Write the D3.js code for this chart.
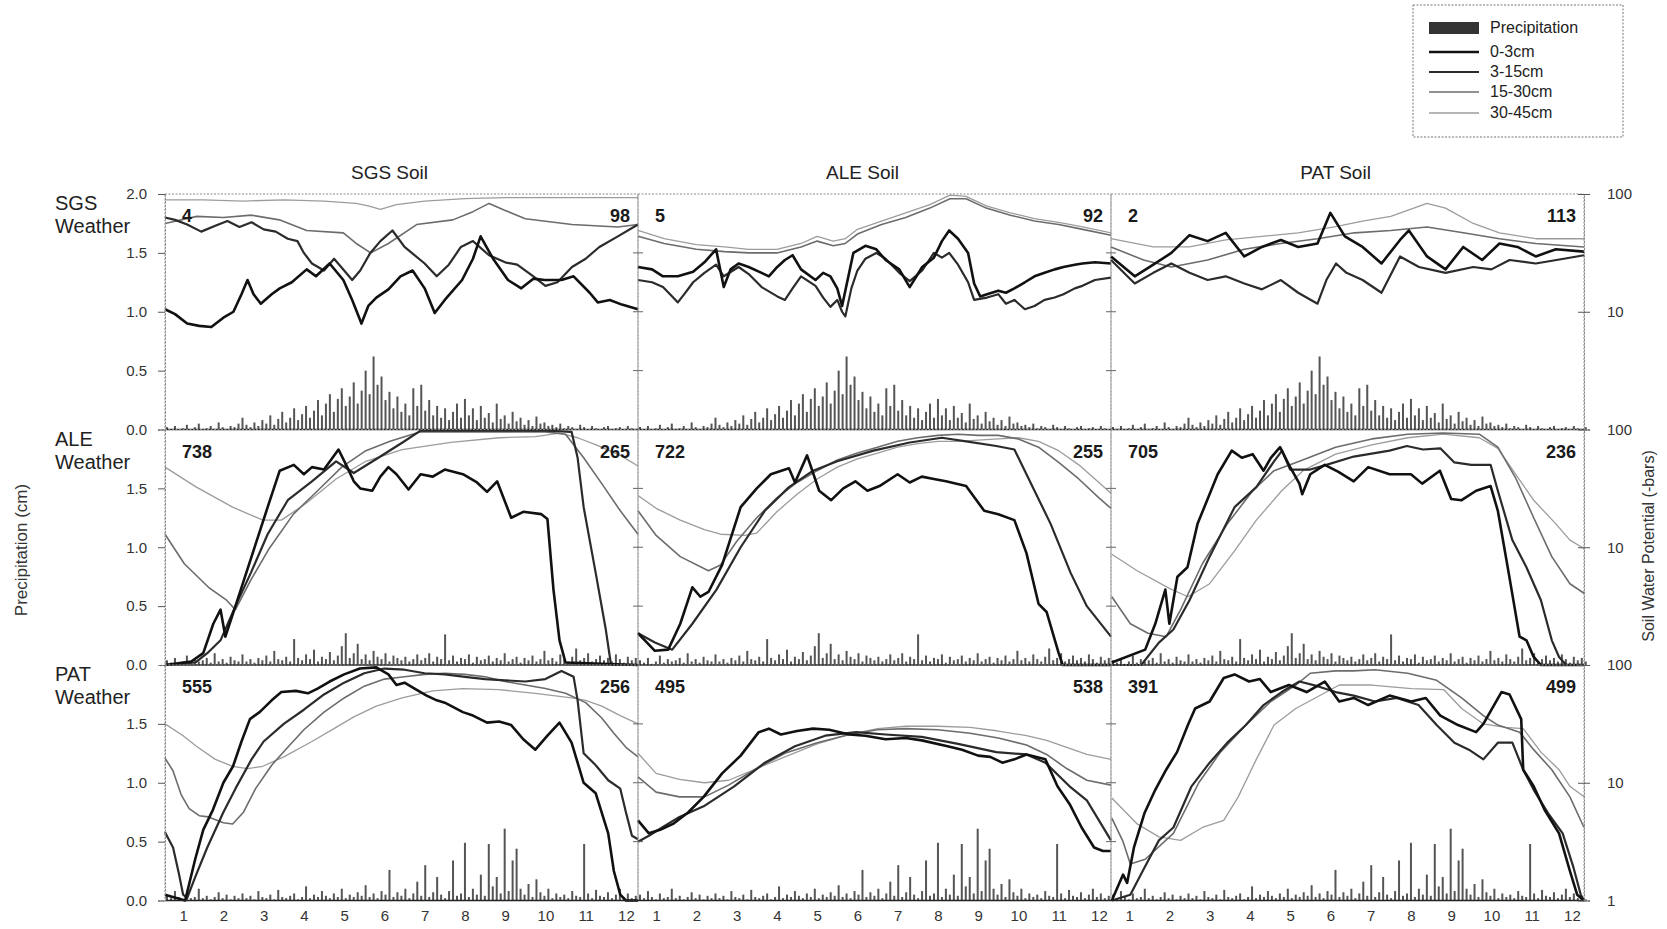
<!DOCTYPE html>
<html>
<head>
<meta charset="utf-8">
<script src="https://cdn.jsdelivr.net/npm/d3@7"></script>
<style>
  body { margin: 0; background: #fff; }
  svg { display: block; font-family: "Liberation Sans", Arial, sans-serif; }
</style>
</head>
<body>
<svg id="chart" width="1667" height="929"></svg>
<script>
// ---- categories and ticks ----
const weatherSites = ["SGS", "ALE", "PAT"];
const soilSites = ["SGS Soil", "ALE Soil", "PAT Soil"];
const layers = ["0-3cm", "3-15cm", "15-30cm", "30-45cm"];
const monthTicks = [1, 2, 3, 4, 5, 6, 7, 8, 9, 10, 11, 12];
const precipTicks = [0, 0.5, 1.0, 1.5, 2.0];
const potentialTicks = [1, 10, 100];
// counts printed in the upper corners of each panel (row = weather, col = soil)
const startCounts = [[4, 5, 2], [738, 722, 705], [555, 495, 391]];
const endCounts = [[98, 92, 113], [265, 255, 236], [256, 538, 499]];

// ---- precipitation, cm per 3-day period, starting early January ----
const precipSGS = [0.02,0,0.03,0,0.01, 0.04,0,0.02,0.05,0,0.01,0.03,0,0.06,0.02,
  0,0.03,0.02,0.05,0.1,0.04,0.02,0.06,0.03,0.08, 0.05,0.12,0.04,0.09,0.15,0.06,0.1,0.18,0.08,0.13,
  0.2,0.1,0.16,0.25,0.12,0.22,0.3,0.15,0.26,0.35, 0.2,0.28,0.4,0.22,0.33,0.5,0.3,0.62,0.38,0.45,
  0.25,0.32,0.18,0.28,0.15,0.22,0.12,0.35,0.2,0.38, 0.16,0.25,0.12,0.2,0.1,0.18,0.08,0.15,0.22,0.1,
  0.26,0.12,0.18,0.08,0.2,0.1,0.14,0.06,0.22,0.09, 0.12,0.05,0.15,0.07,0.1,0.04,0.08,0.03,0.11,0.05,
  0.06,0.03,0.04,0.02,0.05,0.01,0.03,0.02,0,0.04, 0.02,0,0.03,0.01,0,0.02,0.03,0,0.01,0.02,0,0.03,0.01,0,0.02];
const precipALE = [0.04,0.02,0.06,0.01,0.03,0.08,0.02,0.05,0.03,0.04, 0.06,0.02,0.1,0.03,0.05,0.02,0.07,0.04,0.03,0.09,
  0.03,0.05,0.02,0.06,0.04,0.08,0.03,0.12,0.05,0.04, 0.07,0.03,0.22,0.06,0.04,0.09,0.05,0.13,0.03,0.07,
  0.05,0.11,0.04,0.08,0.16,0.27,0.06,0.1,0.18,0.05, 0.09,0.04,0.12,0.07,0.05,0.1,0.03,0.08,0.06,0.04,
  0.07,0.03,0.05,0.09,0.04,0.06,0.1,0.03,0.07,0.05, 0.26,0.04,0.08,0.03,0.06,0.05,0.09,0.02,0.07,0.04,
  0.05,0.08,0.03,0.06,0.04,0.1,0.03,0.05,0.07,0.02, 0.06,0.04,0.08,0.03,0.05,0.12,0.04,0.06,0.03,0.09,
  0.05,0.03,0.07,0.14,0.04,0.06,0.1,0.03,0.05,0.08, 0.04,0.06,0.03,0.09,0.05,0.02,0.07,0.04,0.06,0.03];
const precipPAT = [0.05,0.02,0.08,0.03,0.01,0.06,0.02,0.03,0.1,0.02, 0.04,0.01,0.03,0.07,0.02,0.05,0.01,0.04,0.02,0.06,
  0.02,0.04,0.01,0.08,0.03,0.02,0.05,0.01,0.09,0.03, 0.02,0.04,0.06,0.01,0.03,0.12,0.02,0.05,0.03,0.08,
  0.04,0.02,0.06,0.03,0.1,0.02,0.05,0.03,0.07,0.04, 0.13,0.03,0.06,0.02,0.08,0.05,0.26,0.03,0.07,0.04,
  0.1,0.02,0.06,0.16,0.04,0.3,0.03,0.07,0.2,0.05, 0.02,0.08,0.34,0.04,0.06,0.49,0.03,0.1,0.05,0.22,
  0.04,0.48,0.12,0.2,0.06,0.61,0.08,0.34,0.44,0.1, 0.05,0.14,0.03,0.18,0.07,0.04,0.1,0.02,0.06,0.03,
  0.05,0.02,0.08,0.04,0.03,0.48,0.06,0.02,0.09,0.04, 0.03,0.07,0.02,0.05,0.1,0.03,0.06,0.02,0.04,0.01];
const precipByWeather = [precipSGS, precipALE, precipPAT];

// ---- soil water potential, [month, -bars] ----
// SGS weather / SGS soil
const sgsWx_sgsSoil_0to3 = [[0.55,10.5],[0.8,9.55],[1.1,7.94],[1.4,7.59],[1.7,7.41],[2.0,8.91],[2.25,10],[2.45,14.1],[2.6,18.6],[2.75,14.1],[2.93,11.7],[3.2,14.1],[3.4,15.8],[3.7,17.8],[4.07,22.9],[4.3,20],[4.64,25.7],[4.98,18.6],[5.2,12.6],[5.43,7.94],[5.6,11.2],[5.8,13.2],[6.1,15.5],[6.4,20],[6.7,22.4],[7.0,15.8],[7.25,9.77],[7.5,12.6],[7.93,18.6],[8.2,28.2],[8.39,43.7],[8.7,28.2],[9.07,18.6],[9.4,15.8],[9.7,19.1],[9.98,18.6],[10.4,18.6],[10.7,20],[11.1,14.5],[11.3,12],[11.6,12.6],[11.9,11.5],[12.3,10.5]];
const sgsWx_sgsSoil_3to15 = [[0.55,63.1],[0.8,60.3],[1.1,55],[1.45,47.9],[1.8,53.7],[2.1,58.9],[2.4,52.5],[2.7,57.5],[3.0,50.1],[3.3,47.9],[3.6,41.7],[3.84,39.8],[4.0,31.6],[4.2,25.7],[4.5,22.4],[4.75,28.2],[5.0,22.4],[5.2,18.6],[5.4,22.4],[5.65,31.6],[5.9,39.8],[6.2,49],[6.5,35.5],[7.0,25.7],[7.3,20],[7.6,25.1],[7.9,35.5],[8.2,39.8],[8.6,30.2],[9.0,26.3],[9.3,25.1],[9.7,20],[10.0,16.6],[10.3,17.8],[10.66,24],[11.0,28.2],[11.34,35.5],[11.8,43.7],[12.3,55]];
const sgsWx_sgsSoil_15to30 = [[0.55,56.2],[1.34,64.6],[2.0,63.1],[2.7,66.1],[3.39,60.3],[4.07,49],[4.98,46.8],[5.3,38],[5.66,31.6],[6.1,38],[6.8,55],[7.7,60.3],[8.2,70.8],[8.6,83.2],[9.0,72.4],[9.5,61.7],[10.66,55],[11.8,52.5],[12.3,55]];
const sgsWx_sgsSoil_30to45 = [[0.55,89.1],[1.5,89.1],[2.5,87.1],[3.5,89.1],[4.5,87.1],[5.3,83.2],[5.6,79.4],[5.9,74.1],[6.3,81.3],[7.0,87.1],[8.0,91.2],[9.0,93.3],[10.0,93.3],[11.0,93.3],[12.3,93.3]];
// SGS weather / ALE soil
const sgsWx_aleSoil_0to3 = [[0.55,24],[0.9,22.9],[1.17,20],[1.54,20],[1.92,21.9],[2.2,26.3],[2.49,33.9],[2.68,16.2],[2.85,22.9],[3.05,25.7],[3.3,24],[3.62,21.4],[3.8,20],[4.01,24],[4.2,27.5],[4.39,30.2],[4.6,22.9],[4.96,18.6],[5.15,21.4],[5.33,20],[5.5,15.8],[5.62,11.2],[5.7,15.1],[5.9,31.6],[6.2,36.3],[6.47,33.9],[6.7,27.5],[7.04,22.9],[7.3,16.2],[7.61,24],[7.9,28.8],[8.1,39.8],[8.28,49],[8.5,41.7],[8.75,31.6],[8.9,17.4],[9.05,13.5],[9.22,14.1],[9.5,15.1],[9.69,14.5],[9.9,15.8],[10.16,17.8],[10.4,20],[10.65,21.4],[10.9,22.9],[11.12,24],[11.4,25.1],[11.59,25.7],[11.9,26.3],[12.3,25.7]];
const sgsWx_aleSoil_3to15 = [[0.55,18.6],[0.9,17.8],[1.17,16.2],[1.4,13.5],[1.54,12],[1.7,14.1],[1.92,17.8],[2.2,21.4],[2.49,25.1],[2.68,20],[3.05,24],[3.3,20.9],[3.62,16.2],[4.01,13.5],[4.2,12.6],[4.39,15.8],[4.6,20],[4.96,16.6],[5.15,13.2],[5.33,11],[5.5,12.6],[5.62,10],[5.7,9.12],[5.85,15.8],[6.0,22.4],[6.2,28.2],[6.47,31.6],[6.7,28.2],[7.04,21.4],[7.3,18.2],[7.61,22.4],[7.9,31.6],[8.1,28.8],[8.28,31.6],[8.5,25.1],[8.75,17.8],[8.9,12.6],[9.22,13.2],[9.5,14.1],[9.69,11.7],[9.9,12.6],[10.16,10.5],[10.4,11.2],[10.65,12.6],[10.9,13.2],[11.12,14.1],[11.4,15.8],[11.59,16.6],[11.9,18.6],[12.3,19.5]];
const sgsWx_aleSoil_15to30 = [[0.55,43.7],[1.2,38],[2.0,33.9],[2.7,32.4],[3.3,31.6],[4.0,31.6],[4.6,35.5],[5.0,39.8],[5.4,36.3],[5.7,38],[6.0,45.7],[6.6,55],[7.2,63.1],[7.8,75.9],[8.3,91.2],[8.7,91.2],[9.2,75.9],[9.8,66.1],[10.4,58.9],[11.0,55],[11.6,50.1],[12.3,44.7]];
const sgsWx_aleSoil_30to45 = [[0.55,49],[1.2,41.7],[2.0,37.2],[2.7,35.5],[3.3,33.9],[4.0,33.9],[4.6,38],[5.0,43.7],[5.4,39.8],[5.7,41.7],[6.0,50.1],[6.6,58.9],[7.2,69.2],[7.8,81.3],[8.3,97.7],[8.7,95.5],[9.2,79.4],[9.8,69.2],[10.4,61.7],[11.0,57.5],[11.6,52.5],[12.3,46.8]];
// SGS weather / PAT soil
const sgsWx_patSoil_0to3 = [[0.55,29.5],[1.14,20],[1.6,25.1],[2.05,31.6],[2.5,44.7],[2.95,39.8],[3.4,46.8],[3.86,29.5],[4.3,35.5],[4.77,40.7],[5.2,35.5],[5.68,38],[6.0,69.2],[6.36,43.7],[6.8,35.5],[7.27,25.7],[7.73,40.7],[7.95,49],[8.4,29.5],[8.86,22.9],[9.3,35.5],[9.77,27.5],[10.2,38],[10.65,35.5],[11.1,29.5],[11.6,33.9],[12.3,32.4]];
const sgsWx_patSoil_3to15 = [[0.55,27.5],[1.14,17.4],[1.6,21.4],[2.05,25.7],[2.5,21.4],[2.95,18.6],[3.4,20],[3.86,17.4],[4.3,15.5],[4.77,18.6],[5.2,14.5],[5.68,11.7],[5.9,18.6],[6.14,25.7],[6.4,21.4],[6.8,18.6],[7.27,14.5],[7.73,29.5],[8.2,24],[8.86,21.4],[9.55,24],[10.0,22.9],[10.45,27.5],[11.1,25.7],[11.8,28.2],[12.3,30.2]];
const sgsWx_patSoil_15to30 = [[0.55,35.5],[1.36,27.5],[2.05,24],[2.95,27.5],[3.86,33.9],[4.77,38],[5.68,41.7],[6.6,46.8],[7.5,49],[8.4,52.5],[9.3,46.8],[10.2,41.7],[11.1,38],[12.3,35.5]];
const sgsWx_patSoil_30to45 = [[0.55,41.7],[1.6,35.5],[2.5,35.5],[3.4,40.7],[4.3,43.7],[5.2,46.8],[6.1,52.5],[6.8,58.9],[7.5,64.6],[8.4,83.2],[8.86,75.9],[9.55,56.2],[10.2,46.8],[11.1,41.7],[12.3,41.7]];
// ALE weather / SGS soil
const aleWx_sgsSoil_0to3 = [[0.55,1],[1.2,1.07],[1.5,1.26],[1.75,2.24],[1.93,2.95],[2.05,1.74],[2.3,3.16],[2.7,8.32],[3.1,21.9],[3.4,44.7],[3.75,50.1],[4.0,41.7],[4.2,47.9],[4.5,45.7],[4.86,67.6],[5.05,50.1],[5.24,36.3],[5.4,31.6],[5.7,30.2],[5.9,39.8],[6.1,47.9],[6.3,41.7],[6.6,30.9],[6.9,41.7],[7.2,39.8],[7.5,45.7],[7.95,41.7],[8.3,35.5],[8.55,29.5],[8.8,36.3],[9.15,17.8],[9.45,20],[9.9,19.1],[10.05,17.4],[10.2,4.37],[10.35,1.62],[10.5,1.05],[12.3,1]];
const aleWx_sgsSoil_3to15 = [[0.55,1],[1.3,1.05],[1.6,1.26],[1.93,1.62],[2.3,3.16],[2.68,6.03],[3.1,12.9],[3.6,25.1],[4.2,36.3],[4.8,53.7],[5.24,42.7],[5.85,57.5],[6.45,77.6],[6.9,97.7],[8.0,97.7],[9.0,97.7],[10.0,97.7],[10.65,95.5],[10.8,57.5],[10.95,21.9],[11.25,6.03],[11.5,2.0],[11.63,1],[12.3,1]];
const aleWx_sgsSoil_15to30 = [[0.55,12.9],[1.03,7.24],[1.63,4.57],[2.08,3.55],[2.3,2.95],[2.68,5.25],[3.14,9.77],[3.74,19.1],[4.34,30.2],[4.94,47.9],[5.54,66.1],[6.14,79.4],[6.9,95.5],[8.0,95.5],[9.0,95.5],[10.0,95.5],[10.5,91.2],[10.95,57.5],[11.4,34.7],[11.86,20.4],[12.3,12.9]];
const aleWx_sgsSoil_30to45 = [[0.55,47.9],[1.33,32.4],[2.23,21.9],[2.98,17],[3.44,17],[4.04,23.4],[4.8,38],[5.54,53.7],[6.44,67.6],[7.65,77.6],[8.85,85.1],[9.75,87.1],[10.35,93.3],[10.8,85.1],[11.26,74.1],[11.86,60.3],[12.3,49]];
// ALE weather / ALE soil
const aleWx_aleSoil_0to3 = [[0.55,1.86],[0.75,1.58],[0.97,1.32],[1.3,1.35],[1.6,2.24],[1.9,4.57],[2.1,3.8],[2.3,4.17],[2.64,7.08],[3.1,21.9],[3.5,31.6],[3.85,41.7],[4.3,46.8],[4.45,35.5],[4.75,60.3],[5.05,30.2],[5.35,25.1],[5.65,31.6],[5.95,36.3],[6.25,30.2],[6.55,33.1],[7.0,41.7],[7.3,35.5],[7.6,39.8],[7.9,38],[8.2,36.3],[8.7,33.1],[9.15,20.4],[9.5,19.1],[9.9,17],[10.2,8.91],[10.5,3.31],[10.7,2.82],[11.0,1.26],[11.1,1],[12.3,1]];
const aleWx_aleSoil_3to15 = [[0.55,1.86],[0.97,1.55],[1.4,1.35],[1.9,2.24],[2.5,4.37],[3.1,10],[3.7,20.4],[4.3,32.4],[4.9,44.7],[5.5,53.7],[6.4,66.1],[7.3,77.6],[8.1,85.1],[8.7,79.4],[9.45,72.4],[9.9,67.6],[10.2,41.7],[10.8,15.8],[11.3,6.03],[11.7,3.16],[12.3,1.74]];
const aleWx_aleSoil_15to30 = [[0.55,20.4],[1.0,12.6],[1.6,8.32],[2.3,6.31],[2.6,7.08],[3.0,11.2],[3.5,17.8],[4.0,26.3],[4.5,35.5],[5.0,44.7],[5.5,55],[6.0,63.1],[6.5,70.8],[7.0,79.4],[7.5,85.1],[8.0,89.1],[8.5,91.2],[9.0,89.1],[9.5,89.1],[10.0,83.2],[10.5,70.8],[11.0,52.5],[11.5,38],[12.0,26.3],[12.3,21.4]];
const aleWx_aleSoil_30to45 = [[0.55,27.5],[1.0,21.4],[1.6,17],[2.2,14.1],[2.6,12.9],[3.2,12.6],[3.5,13.2],[4.0,20],[4.5,28.2],[5.0,38],[5.5,47.9],[6.0,56.2],[6.5,63.1],[7.0,70.8],[7.5,75.9],[8.0,79.4],[8.5,79.4],[9.0,81.3],[9.5,83.2],[10.0,85.1],[10.5,79.4],[11.0,66.1],[11.5,50.1],[12.0,35.5],[12.3,28.8]];
// ALE weather / PAT soil
const aleWx_patSoil_0to3 = [[0.57,1.05],[1.4,1.35],[1.65,2.24],[1.9,4.37],[2.0,2.24],[2.2,5.62],[2.45,6.76],[2.7,15.8],[3.2,41.7],[3.55,66.1],[3.8,57.5],[4.07,61.7],[4.34,44.7],[4.52,57.5],[4.75,70.8],[4.97,50.1],[5.23,34.7],[5.3,28.2],[5.5,41.7],[5.86,50.1],[6.2,43.7],[6.58,36.3],[6.94,47.9],[7.47,41.7],[8.0,41.7],[8.28,34.7],[8.72,44.7],[9.0,25.7],[9.26,25.1],[9.62,30.2],[9.98,33.1],[10.16,20.4],[10.43,6.03],[10.7,1.74],[10.87,1.62],[11.05,1.17],[11.23,1],[12.3,1]];
const aleWx_patSoil_3to15 = [[0.57,1],[1.3,1],[1.74,1.55],[2.1,2.0],[2.5,3.55],[3.0,8.32],[3.62,21.9],[4.16,32.4],[4.6,53.7],[4.8,66.1],[5.0,45.7],[5.5,45.7],[5.9,50.1],[6.58,58.9],[7.47,66.1],[7.9,72.4],[8.3,67.6],[8.73,69.2],[9.08,52.5],[9.5,50.1],[9.98,50.1],[10.16,30.2],[10.52,11.5],[10.87,6.76],[11.23,3.55],[11.5,1.62],[11.68,1.17],[11.86,1],[12.3,1]];
const aleWx_patSoil_15to30 = [[0.57,3.8],[1.03,2.24],[1.47,1.86],[1.92,1.74],[2.28,2.95],[2.82,7.24],[3.44,15.8],[4.07,30.2],[4.6,44.7],[5.23,53.7],[6.13,70.8],[7.03,83.2],[7.92,91.2],[8.8,93.3],[9.7,91.2],[10.16,70.8],[10.6,38.9],[11.05,17.8],[11.5,8.32],[11.95,4.9],[12.3,4.07]];
const aleWx_patSoil_30to45 = [[0.57,8.71],[1.2,6.31],[2.0,4.47],[2.46,3.8],[3.0,4.9],[3.62,9.33],[4.16,17],[4.79,30.2],[5.32,44.7],[6.13,61.7],[7.03,74.1],[7.92,85.1],[8.8,91.2],[9.7,85.1],[10.16,69.2],[10.6,41.7],[11.05,25.1],[11.6,15.8],[11.95,11.5],[12.3,9.77]];
// PAT weather / SGS soil
const patWx_sgsSoil_0to3 = [[0.55,1.12],[1.05,1],[1.3,2.24],[1.5,3.98],[1.74,5.89],[2.0,10],[2.24,13.8],[2.45,22.4],[2.66,34.7],[2.9,39.8],[3.2,50.1],[3.44,58.9],[3.8,60.3],[4.1,57.5],[4.34,63.1],[4.64,72.4],[5.0,83.2],[5.39,93.3],[5.8,95.5],[6.1,83.2],[6.3,67.6],[6.5,70.8],[6.75,63.1],[7.05,55],[7.3,50.1],[7.5,47.9],[7.95,39.8],[8.2,37.2],[8.55,32.4],[8.85,33.1],[9.15,30.9],[9.45,23.4],[9.75,19.1],[10.05,25.1],[10.35,32.4],[10.65,21.9],[10.95,10],[11.25,8.13],[11.56,3.72],[11.7,1.78],[11.86,1.12],[12.0,1],[12.3,1]];
const patWx_sgsSoil_3to15 = [[0.55,3.8],[0.75,2.82],[0.9,1.66],[1.0,1.12],[1.1,1.05],[1.3,1.58],[1.6,2.82],[2.0,5.62],[2.3,8.91],[2.7,15.8],[3.0,22.4],[3.5,31.6],[4.0,41.7],[4.5,56.2],[5.0,70.8],[5.5,85.1],[6.0,93.3],[6.5,91.2],[7.0,85.1],[7.5,83.2],[8.0,79.4],[8.5,75.9],[9.0,74.1],[9.5,72.4],[10.0,75.9],[10.4,89.1],[10.7,79.4],[10.8,50.1],[10.95,17.8],[11.25,14.1],[11.56,10.5],[11.86,8.91],[12.0,5.62],[12.15,3.55],[12.3,3.31]];
const patWx_sgsSoil_15to30 = [[0.55,16.2],[0.75,12.6],[0.95,7.94],[1.15,6.03],[1.4,5.25],[1.63,5.13],[2.0,4.57],[2.23,4.47],[2.5,5.62],[2.8,8.91],[3.2,14.1],[3.6,20],[4.0,28.2],[4.5,39.8],[5.0,52.5],[5.5,66.1],[6.0,75.9],[6.5,79.4],[7.0,83.2],[7.5,85.1],[8.0,83.2],[8.5,79.4],[9.0,72.4],[9.5,67.6],[10.0,63.1],[10.5,57.5],[11.0,47.9],[11.4,35.5],[11.7,26.3],[12.0,20],[12.3,16.6]];
const patWx_sgsSoil_30to45 = [[0.55,31.6],[1.0,25.1],[1.33,20.4],[1.8,15.8],[2.23,13.8],[2.6,13.2],[2.98,13.8],[3.5,16.6],[4.2,22.4],[4.8,29.5],[5.24,36.3],[5.8,44.7],[6.44,52.5],[7.2,60.3],[7.95,63.1],[8.85,61.7],[9.75,57.5],[10.65,52.5],[11.0,50.1],[11.4,44.7],[11.86,37.2],[12.3,31.6]];
// PAT weather / ALE soil
const patWx_aleSoil_0to3 = [[0.55,4.79],[0.82,3.72],[1.1,3.98],[1.42,4.47],[1.8,5.62],[2.18,7.59],[2.64,12],[3.1,17],[3.55,26.9],[3.8,28.8],[4.1,25.7],[4.5,27.5],[4.9,28.8],[5.3,28.2],[5.8,25.7],[6.2,25.1],[6.7,23.4],[7.2,24],[7.6,22.9],[8.24,20.4],[8.6,19.1],[9.0,17],[9.3,16.6],[9.6,14.8],[9.9,15.8],[10.2,17.4],[10.67,15.8],[10.97,9.33],[11.27,6.61],[11.57,4.17],[11.88,2.82],[12.1,2.63],[12.3,2.63]];
const patWx_aleSoil_3to15 = [[0.55,3.16],[0.82,3.55],[1.2,4.27],[1.58,5.13],[2.18,6.31],[2.94,9.33],[3.7,14.8],[4.45,20.4],[5.2,25.1],[5.97,26.9],[6.7,25.7],[7.6,24.5],[8.5,21.4],[9.45,18.2],[10.2,17.4],[10.67,14.8],[11.27,9.33],[11.7,7.08],[12.0,4.79],[12.3,3.24]];
const patWx_aleSoil_15to30 = [[0.55,11.2],[1.0,8.32],[1.58,7.59],[2.2,7.59],[2.8,9.55],[3.5,13.2],[4.2,17.8],[5.0,21.9],[5.8,25.7],[6.5,28.2],[7.2,28.8],[8.0,28.2],[8.8,26.3],[9.5,24],[10.2,20.9],[10.7,17.4],[11.2,13.2],[11.7,10.5],[12.3,9.55]];
const patWx_aleSoil_30to45 = [[0.55,17.8],[1.0,12],[1.58,10.7],[2.2,10],[2.8,10.5],[3.5,13.2],[4.2,16.6],[5.0,21.4],[5.8,25.7],[6.5,28.8],[7.2,30.2],[8.0,30.2],[8.8,29.5],[9.5,27.5],[10.2,25.1],[10.7,22.9],[11.2,20],[11.7,17.4],[12.3,15.8]];
// PAT weather / PAT soil
const patWx_patSoil_0to3 = [[0.57,1],[0.85,1.66],[0.95,1.41],[1.12,2.82],[1.38,5.5],[1.65,8.71],[1.92,12.9],[2.19,18.2],[2.46,30.9],[2.64,42.7],[3.0,49],[3.35,77.6],[3.62,83.2],[3.98,72.4],[4.25,75.9],[4.52,58.9],[4.97,67.6],[5.41,58.9],[5.86,72.4],[6.22,49],[6.58,52.5],[6.94,45.7],[7.47,55],[8.01,49],[8.37,52.5],[8.73,37.2],[9.17,30.9],[9.62,26.9],[9.8,31.6],[10.25,58.9],[10.45,56.2],[10.74,34.7],[10.79,12.9],[11.05,9.33],[11.32,5.89],[11.68,3.72],[11.95,1.78],[12.13,1.12],[12.3,1]];
const patWx_patSoil_3to15 = [[0.57,1],[1.03,1.12],[1.38,1.9],[1.74,3.24],[2.1,4.17],[2.55,9.33],[3.0,14.8],[3.44,21.9],[3.9,30.9],[4.34,45.7],[4.79,58.9],[5.23,72.4],[5.68,66.1],[6.13,58.9],[6.58,55],[7.11,49],[7.65,52.5],[8.19,45.7],[8.64,30.9],[9.08,21.9],[9.44,19.1],[9.8,15.8],[10.16,21.9],[10.52,21.9],[10.79,12.9],[11.05,8.71],[11.41,5.5],[11.77,3.72],[12.04,1.9],[12.22,1.12],[12.3,1]];
const patWx_patSoil_15to30 = [[0.57,5.01],[0.85,3.16],[1.03,2.04],[1.4,2.24],[2.1,3.72],[2.73,10],[3.27,18.2],[3.9,30.9],[4.52,49],[5.14,67.6],[5.5,85.1],[6.13,89.1],[6.58,89.1],[7.11,91.2],[7.92,85.1],[8.64,74.1],[9.26,52.5],[9.8,37.2],[10.16,30.9],[10.7,26.9],[11.05,19.1],[11.5,12.9],[11.95,7.59],[12.3,4.17]];
const patWx_patSoil_30to45 = [[0.57,7.41],[1.2,4.47],[1.74,3.47],[2.28,3.24],[2.82,4.17],[3.35,4.79],[3.71,7.59],[4.16,15.8],[4.6,30.9],[5.14,42.7],[5.68,53.7],[6.22,67.6],[7.03,67.6],[8.01,63.1],[8.82,61.7],[9.26,42.7],[9.8,31.6],[10.34,29.5],[10.79,28.8],[11.23,18.2],[11.68,12.9],[11.95,9.33],[12.3,7.59]];

// panel table: rows follow weather site, columns follow soil site
const panelSeries = [
  [[sgsWx_sgsSoil_0to3, sgsWx_sgsSoil_3to15, sgsWx_sgsSoil_15to30, sgsWx_sgsSoil_30to45],
   [sgsWx_aleSoil_0to3, sgsWx_aleSoil_3to15, sgsWx_aleSoil_15to30, sgsWx_aleSoil_30to45],
   [sgsWx_patSoil_0to3, sgsWx_patSoil_3to15, sgsWx_patSoil_15to30, sgsWx_patSoil_30to45]],
  [[aleWx_sgsSoil_0to3, aleWx_sgsSoil_3to15, aleWx_sgsSoil_15to30, aleWx_sgsSoil_30to45],
   [aleWx_aleSoil_0to3, aleWx_aleSoil_3to15, aleWx_aleSoil_15to30, aleWx_aleSoil_30to45],
   [aleWx_patSoil_0to3, aleWx_patSoil_3to15, aleWx_patSoil_15to30, aleWx_patSoil_30to45]],
  [[patWx_sgsSoil_0to3, patWx_sgsSoil_3to15, patWx_sgsSoil_15to30, patWx_sgsSoil_30to45],
   [patWx_aleSoil_0to3, patWx_aleSoil_3to15, patWx_aleSoil_15to30, patWx_aleSoil_30to45],
   [patWx_patSoil_0to3, patWx_patSoil_3to15, patWx_patSoil_15to30, patWx_patSoil_30to45]]
];

// ---- layout ----
const plotL = 165, plotR = 1584, plotT = 194, rowH = 235.5;
const colW = (plotR - plotL) / 3;
const monthDomain = [0.55, 12.3];
const precipStartMonth = 0.6, precipStepDays = 3, daysPerMonth = 30.4;

const layerStroke = ["#111", "#2b2b2b", "#6c6c6c", "#9c9c9c"];
const layerWidth = [2.6, 2.2, 1.6, 1.3];

const svg = d3.select("#chart");

const xScale = c => d3.scaleLinear().domain(monthDomain).range([plotL + c * colW, plotL + (c + 1) * colW]);
const yPrecip = r => d3.scaleLinear().domain([0, 2]).range([plotT + (r + 1) * rowH, plotT + r * rowH]);
const yPot = r => d3.scaleLog().domain([1, 100]).range([plotT + (r + 1) * rowH, plotT + r * rowH]).clamp(true);

const plot = svg.append("g");

for (let r = 0; r < 3; r++) {
  const yp = yPrecip(r), ys = yPot(r);
  for (let c = 0; c < 3; c++) {
    const x = xScale(c);
    const g = plot.append("g");

    // precipitation bars
    const bars = precipByWeather[r];
    g.append("g").selectAll("line").data(bars).join("line")
      .attr("x1", (d, i) => x(precipStartMonth + i * precipStepDays / daysPerMonth))
      .attr("x2", (d, i) => x(precipStartMonth + i * precipStepDays / daysPerMonth))
      .attr("y1", yp(0))
      .attr("y2", d => yp(d))
      .attr("stroke", "#555")
      .attr("stroke-width", 2);

    // soil water potential lines, deepest drawn first
    const line = d3.line().x(d => x(d[0])).y(d => ys(d[1]));
    for (let k = 3; k >= 0; k--) {
      g.append("path")
        .attr("d", line(panelSeries[r][c][k]))
        .attr("fill", "none")
        .attr("stroke", layerStroke[k])
        .attr("stroke-width", layerWidth[k])
        .attr("stroke-linejoin", "round");
    }

    // panel frame
    g.append("rect")
      .attr("x", x.range()[0]).attr("y", yp(2))
      .attr("width", colW).attr("height", rowH)
      .attr("fill", "none").attr("stroke", "#8a8a8a")
      .attr("stroke-width", 1).attr("stroke-dasharray", "2,1.5");

    // small cross ticks on the inner dividers
    if (c > 0) {
      g.append("g").selectAll("line").data([0.5, 1.0, 1.5]).join("line")
        .attr("x1", x.range()[0] - 5).attr("x2", x.range()[0] + 5)
        .attr("y1", d => yp(d)).attr("y2", d => yp(d))
        .attr("stroke", "#666").attr("stroke-width", 1);
    }

    // corner counts
    g.append("text")
      .attr("x", x.range()[0] + 17).attr("y", yp(2) + 28)
      .attr("font-size", 18).attr("font-weight", "bold").attr("fill", "#1a1a1a")
      .text(startCounts[r][c]);
    g.append("text")
      .attr("x", x.range()[1] - 8).attr("y", yp(2) + 28)
      .attr("text-anchor", "end")
      .attr("font-size", 18).attr("font-weight", "bold").attr("fill", "#1a1a1a")
      .text(endCounts[r][c]);
  }

  // baseline of each row
  plot.append("line")
    .attr("x1", plotL).attr("x2", plotR)
    .attr("y1", yp(0)).attr("y2", yp(0))
    .attr("stroke", "#222").attr("stroke-width", 1.3);

  // left precipitation axis
  const la = plot.append("g").attr("transform", `translate(${plotL},0)`)
    .call(d3.axisLeft(yp)
      .tickValues(r === 0 ? precipTicks : precipTicks.slice(0, 4))
      .tickFormat(d3.format(".1f"))
      .tickSize(7).tickPadding(11));
  la.select(".domain").attr("stroke", "#888").attr("stroke-dasharray", "2,1.5");
  la.selectAll(".tick line").attr("stroke", "#555");
  la.selectAll(".tick text").attr("font-size", 15).attr("fill", "#333")
    .attr("font-family", "'Liberation Sans', Arial, sans-serif");

  // right soil water potential axis
  const ra = plot.append("g").attr("transform", `translate(${plotR},0)`)
    .call(d3.axisRight(ys)
      .tickValues(r === 2 ? potentialTicks : potentialTicks.slice(1))
      .tickFormat(d3.format("d"))
      .tickSize(6).tickPadding(17));
  ra.select(".domain").attr("stroke", "#888").attr("stroke-dasharray", "2,1.5");
  ra.selectAll(".tick line").attr("stroke", "#555").attr("x1", -6);
  ra.selectAll(".tick text").attr("font-size", 15).attr("fill", "#333")
    .attr("font-family", "'Liberation Sans', Arial, sans-serif");

  // weather site label
  const lbl = plot.append("text").attr("x", 55).attr("font-size", 20).attr("fill", "#222");
  lbl.append("tspan").attr("x", 55).attr("y", plotT + r * rowH + 16).text(weatherSites[r]);
  lbl.append("tspan").attr("x", 55).attr("y", plotT + r * rowH + 39).text("Weather");
}

// month axes under the bottom row
for (let c = 0; c < 3; c++) {
  const ba = plot.append("g").attr("transform", `translate(0,${plotT + 3 * rowH})`)
    .call(d3.axisBottom(xScale(c)).tickValues(monthTicks).tickFormat(d3.format("d"))
      .tickSize(0).tickPadding(10));
  ba.select(".domain").remove();
  ba.selectAll(".tick text").attr("font-size", 15).attr("fill", "#333")
    .attr("font-family", "'Liberation Sans', Arial, sans-serif");
}

// soil site titles
soilSites.forEach((s, c) => {
  svg.append("text")
    .attr("x", plotL + (c + 0.5) * colW - 12).attr("y", 179)
    .attr("text-anchor", "middle").attr("font-size", 19).attr("fill", "#222")
    .text(s);
});

// axis titles
svg.append("text")
  .attr("transform", "translate(27,550) rotate(-90)")
  .attr("text-anchor", "middle").attr("font-size", 17).attr("fill", "#333")
  .text("Precipitation (cm)");
svg.append("text")
  .attr("transform", "translate(1654,546) rotate(-90)")
  .attr("text-anchor", "middle").attr("font-size", 16).attr("fill", "#333")
  .text("Soil Water Potential (-bars)");

// legend
const legend = svg.append("g").attr("transform", "translate(1413,5)");
legend.append("rect").attr("width", 210).attr("height", 132)
  .attr("fill", "#fff").attr("stroke", "#777").attr("stroke-dasharray", "2,1.5");
const legendItems = ["Precipitation"].concat(layers);
const legendY = [23, 47, 67, 87, 108];
legendItems.forEach((name, i) => {
  const row = legend.append("g").attr("transform", `translate(0,${legendY[i]})`);
  if (i === 0) {
    row.append("rect").attr("x", 16).attr("y", -6).attr("width", 50).attr("height", 12).attr("fill", "#333");
  } else {
    row.append("line").attr("x1", 16).attr("x2", 66).attr("y1", 0).attr("y2", 0)
      .attr("stroke", layerStroke[i - 1]).attr("stroke-width", layerWidth[i - 1]);
  }
  row.append("text").attr("x", 77).attr("y", 5).attr("font-size", 16).attr("fill", "#222").text(name);
});
</script>
</body>
</html>
